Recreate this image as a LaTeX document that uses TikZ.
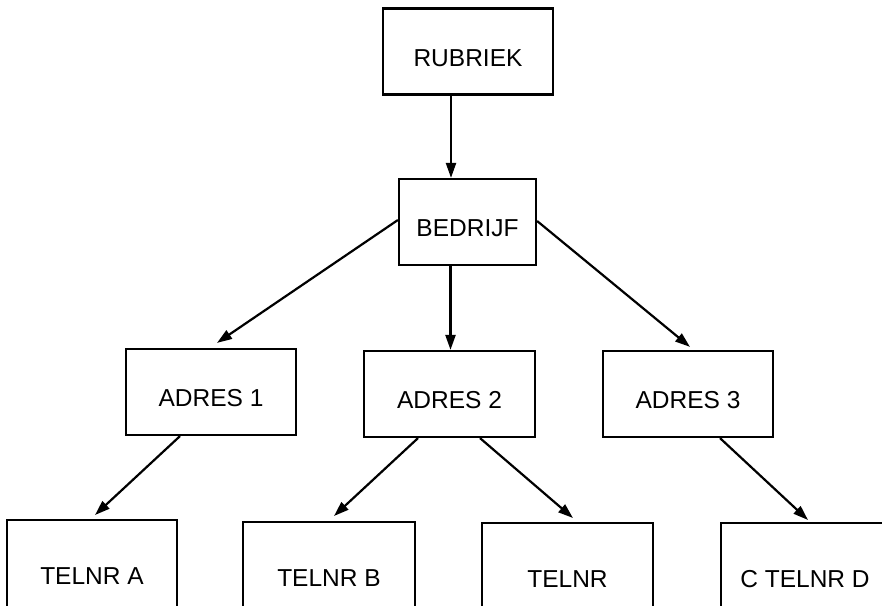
\documentclass[tikz,border=0pt]{standalone}
\usepackage{fontspec}
\setmainfont{Liberation Sans}
\usetikzlibrary{arrows.meta}
\begin{document}
\begin{tikzpicture}[x=1pt,y=-1pt,
  box/.style={draw, line width=2.2pt, inner sep=0pt, minimum height=86pt,
    font=\fontsize{24.5}{28}\selectfont, text height=29pt, text depth=0pt},
  lowbox/.style={box, minimum height=100pt},
  arr/.style={line width=2.2pt, -{Triangle[length=15pt,width=10pt]}}]
\useasboundingbox (0,0) rectangle (882,605);
\clip (0,0) rectangle (882,605);

% top levels
\node[box, minimum width=170pt] (rubriek) at (468,51.5) {RUBRIEK};
\node[box, minimum width=137pt] (bedrijf) at (467.5,222) {BEDRIJF};

% addresses
\node[box, minimum width=170pt] (adres1) at (211,392) {ADRES 1};
\node[box, minimum width=171pt] (adres2) at (449.5,394) {ADRES 2};
\node[box, minimum width=170pt] (adres3) at (688,394) {ADRES 3};

% phone numbers (running off the lower edge)
\node[lowbox, minimum width=170pt, anchor=north] (telA) at (92,519) {TELNR A};
\node[lowbox, minimum width=172pt, anchor=north] (telB) at (329,521) {TELNR B};
\node[lowbox, minimum width=171pt, anchor=north] (telC) at (567.5,522) {TELNR};
\node[lowbox, minimum width=168pt, anchor=north] (telD) at (805,522) {C TELNR D};

% connectors
\coordinate (r0) at ([xshift=-17pt]rubriek.south);
\coordinate (b0) at ([xshift=-17pt]bedrijf.south);
\draw[arr] (r0) -- (r0 |- bedrijf.north);
\draw[arr] ([yshift=2pt]bedrijf.west) -- ([xshift=6pt,yshift=5pt]adres1.north);
\draw[arr] (b0) -- (b0 |- adres2.north);
\draw[arr] ([yshift=1pt]bedrijf.east) -- ([xshift=2pt,yshift=3pt]adres3.north);
\draw[arr] ([xshift=-31pt]adres1.south) -- ([xshift=3pt,yshift=4pt]telA.north);
\draw[arr] ([xshift=-31.5pt]adres2.south) -- ([xshift=5pt,yshift=5pt]telB.north);
\draw[arr] ([xshift=30.5pt]adres2.south) -- ([xshift=5.5pt,yshift=4pt]telC.north);
\draw[arr] ([xshift=32pt]adres3.south) -- ([xshift=3pt,yshift=2pt]telD.north);
\end{tikzpicture}
\end{document}
